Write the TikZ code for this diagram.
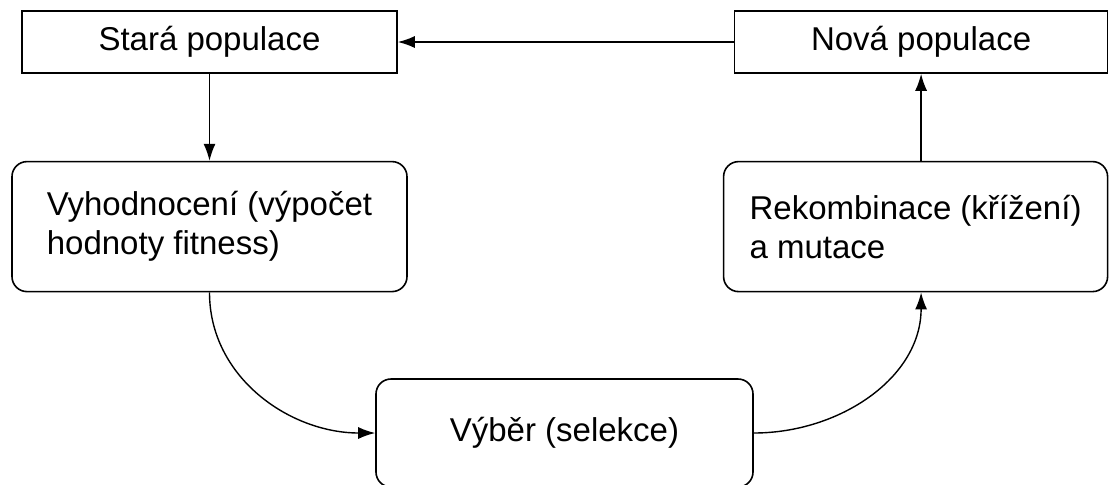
\documentclass[tikz,border=0pt]{standalone}
\usepackage{fontspec}
\setmainfont{Liberation Sans}
\usetikzlibrary{positioning, arrows.meta}

\begin{document}
\begin{tikzpicture}[
     node distance = 43.5pt and 168pt,
             font = \fontsize{16.5pt}{19.5pt}\selectfont,
        box/.style = {rectangle, draw, line width=0.8pt, inner sep=0pt, minimum height=31pt},
       rbox/.style = {rectangle, draw, rounded corners=7.5pt, line width=0.8pt,
                      inner sep=0pt, align=left, minimum height=65pt},
        arr/.style = {-{Latex[length=8.5pt,width=6pt]}, line width=0.7pt}
                        ]
\useasboundingbox (0,0) rectangle (555pt,-242pt);
\node (stara) [box, minimum width=187.5pt] at (104.75pt,-21pt) {Stará populace};
\node (nova)  [box, minimum width=186.5pt, right =of stara] {Nová populace};
\node (vyhod) [rbox, minimum width=197.5pt, below =of stara]
      {Vyhodnocení (výpočet\\hodnoty fitness)};
\node (rekomb)[rbox, minimum width=192pt, below =of nova.south east, anchor=north east]
      {Rekombinace (křížení)\\a mutace};
\node (vyber) [rbox, minimum width=188.5pt, minimum height=54pt] at (282.25pt,-216.5pt)
      {Výběr (selekce)};
\draw[arr] (nova) -- (stara);
\draw[arr] (stara) -- (vyhod);
\draw[arr] (vyhod.south) to[out=-90, in=180] (vyber.west);
\draw[arr] (vyber.east) to[out=0, in=-90] (rekomb.south -| nova);
\draw[arr] (rekomb.north -| nova) -- (nova);
\end{tikzpicture}
\end{document}
